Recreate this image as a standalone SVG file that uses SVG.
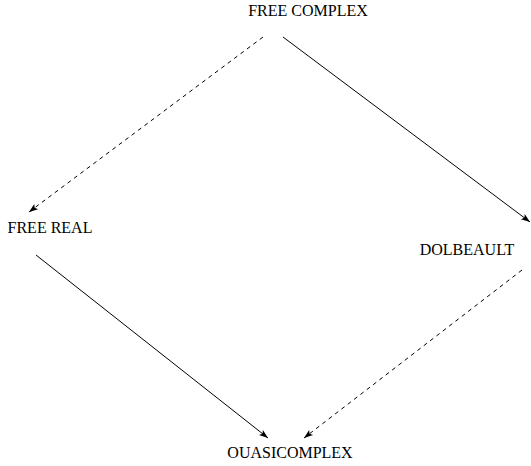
<svg xmlns="http://www.w3.org/2000/svg" width="531" height="466" viewBox="0 0 531 466">
<defs>
<style>
text{font-family:"Liberation Serif","Times New Roman",serif;font-size:16px;fill:#000;text-anchor:middle}
.c{stroke:#000;stroke-width:1;fill:none}
.d{stroke-dasharray:4,4}
</style>
<marker id="ah" markerUnits="userSpaceOnUse" markerWidth="12" markerHeight="8" viewBox="-10 -4 12 8" refX="0" refY="0" orient="auto">
<path d="M0,0 L-9,-3.2 L-7,0 L-9,3.2 z" fill="#000"/>
</marker>
</defs>
<rect width="531" height="466" fill="#fff"/>
<g id="connectors">
<line class="c d" x1="263" y1="37" x2="29" y2="212" marker-end="url(#ah)"/>
<line class="c" x1="283" y1="37" x2="530" y2="222" marker-end="url(#ah)"/>
<line class="c" x1="36" y1="255" x2="268" y2="438" marker-end="url(#ah)"/>
<line class="c d" x1="522" y1="270" x2="304" y2="438" marker-end="url(#ah)"/>
</g>
<g id="free-complex"><text x="308" y="16">FREE COMPLEX</text></g>
<g id="free-real"><text x="50" y="233">FREE REAL</text></g>
<g id="dolbeault"><text x="467" y="255">DOLBEAULT</text></g>
<g id="quasicomplex"><text x="290" y="458">OUASICOMPLEX</text></g>
</svg>
